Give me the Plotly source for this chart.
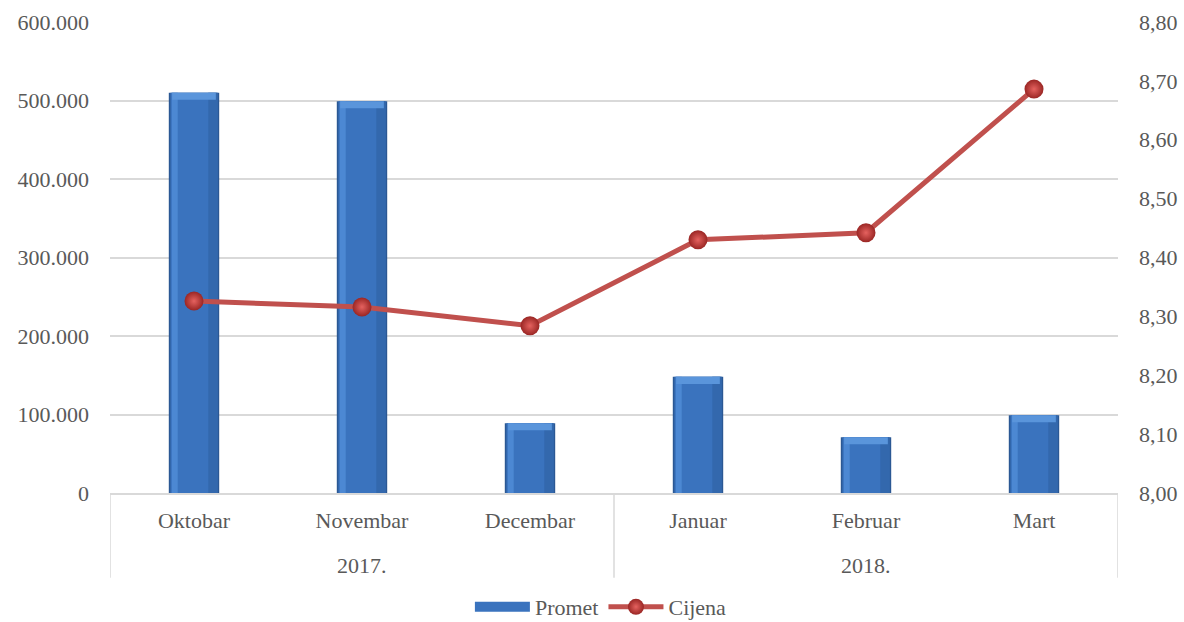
import plotly.graph_objects as go

# Monthly turnover (Promet) and average price (Cijena)
years = ["2017.", "2017.", "2017.", "2018.", "2018.", "2018."]
months = ["Oktobar", "Novembar", "Decembar", "Januar", "Februar", "Mart"]
promet = [510000, 499000, 89000, 148000, 71000, 99000]
cijena = [8.326, 8.316, 8.284, 8.430, 8.442, 8.686]

FONT = "Liberation Serif"
TXT = "#595959"
GRID = "#D9D9D9"
FS = 22

fig = go.Figure()

# Layered bars (offset, width, colour) give a rounded, cylinder-like shading
layers = [
    (-0.15, 0.30, "#2B5894"),
    (-0.14, 0.28, "#3A73BE"),
    (-0.132, 0.035, "#4C88D3"),
    (0.085, 0.055, "#3368AD"),
]
for off, w, c in layers:
    fig.add_trace(go.Bar(
        x=months, y=promet, name="Promet", width=w, offset=off,
        marker=dict(color=c, line=dict(width=0)),
        showlegend=False, legendgroup="p", yaxis="y",
    ))

# Light bevel along the top of each bar
cap = 9000
fig.add_trace(go.Bar(
    x=months, y=[cap] * len(promet), base=[v - cap for v in promet],
    width=0.26, offset=-0.13,
    marker=dict(color="#5A95DB", line=dict(width=0)),
    showlegend=False, legendgroup="p", yaxis="y", hoverinfo="skip",
))

# Legend entry for the bars, drawn as a wide blue band
fig.add_trace(go.Scatter(
    x=[None], y=[None], name="Promet", mode="lines", legendgroup="p",
    line=dict(color="#3A73BE", width=10), yaxis="y",
))

fig.add_trace(go.Scatter(
    x=months, y=cijena, name="Cijena", mode="lines+markers", yaxis="y2",
    line=dict(color="#C0504D", width=5),
    marker=dict(size=19, color="#9A2624",
                gradient=dict(type="radial", color="#E5625F"),
                line=dict(width=0)),
))

# Year group labels and the dividers between groups
shapes = []
annotations = []
group_starts = [i for i in range(len(years)) if i == 0 or years[i] != years[i - 1]]
bounds = group_starts + [len(years)]
for k in range(len(group_starts)):
    a, b = bounds[k], bounds[k + 1]
    annotations.append(dict(
        x=months[(a + b - 1) // 2], xref="x", y=-0.153, yref="paper",
        text=years[a], showarrow=False, yanchor="middle",
        font=dict(family=FONT, size=FS, color=TXT),
    ))
for edge in bounds:
    shapes.append(dict(
        type="line", xref="x", yref="paper", x0=edge - 0.5, x1=edge - 0.5,
        y0=0, y1=-0.18, line=dict(color=GRID, width=1.5),
    ))

fig.update_layout(
    width=1184, height=622,
    margin=dict(l=110, r=66, t=22, b=129, autoexpand=False),
    paper_bgcolor="white", plot_bgcolor="white",
    barmode="overlay",
    separators=",.",
    font=dict(family=FONT, size=FS, color=TXT),
    shapes=shapes,
    annotations=annotations,
    xaxis=dict(
        type="category", range=[-0.5, len(months) - 0.5],
        showgrid=False, automargin=False,
        showline=True, linecolor=GRID, linewidth=1.5,
        ticks="", ticklabelstandoff=7,
        tickfont=dict(family=FONT, size=FS, color=TXT),
    ),
    yaxis=dict(
        range=[0, 600000], dtick=100000, tickformat=",d",
        showgrid=True, gridcolor=GRID, gridwidth=1.5,
        zeroline=False, showline=False, ticks="", automargin=False,
        ticklabelstandoff=20,
    ),
    yaxis2=dict(
        overlaying="y", side="right",
        range=[8.0, 8.8], dtick=0.1, tickformat=".2f",
        showgrid=False, zeroline=False, showline=False, ticks="",
        automargin=False, ticklabelstandoff=20,
    ),
    legend=dict(
        orientation="h", x=0.487, xanchor="center",
        y=-0.242, yref="paper", yanchor="middle",
        font=dict(family=FONT, size=FS, color=TXT),
        bgcolor="rgba(0,0,0,0)", itemwidth=55,
    ),
)

fig.write_html("out.html")
